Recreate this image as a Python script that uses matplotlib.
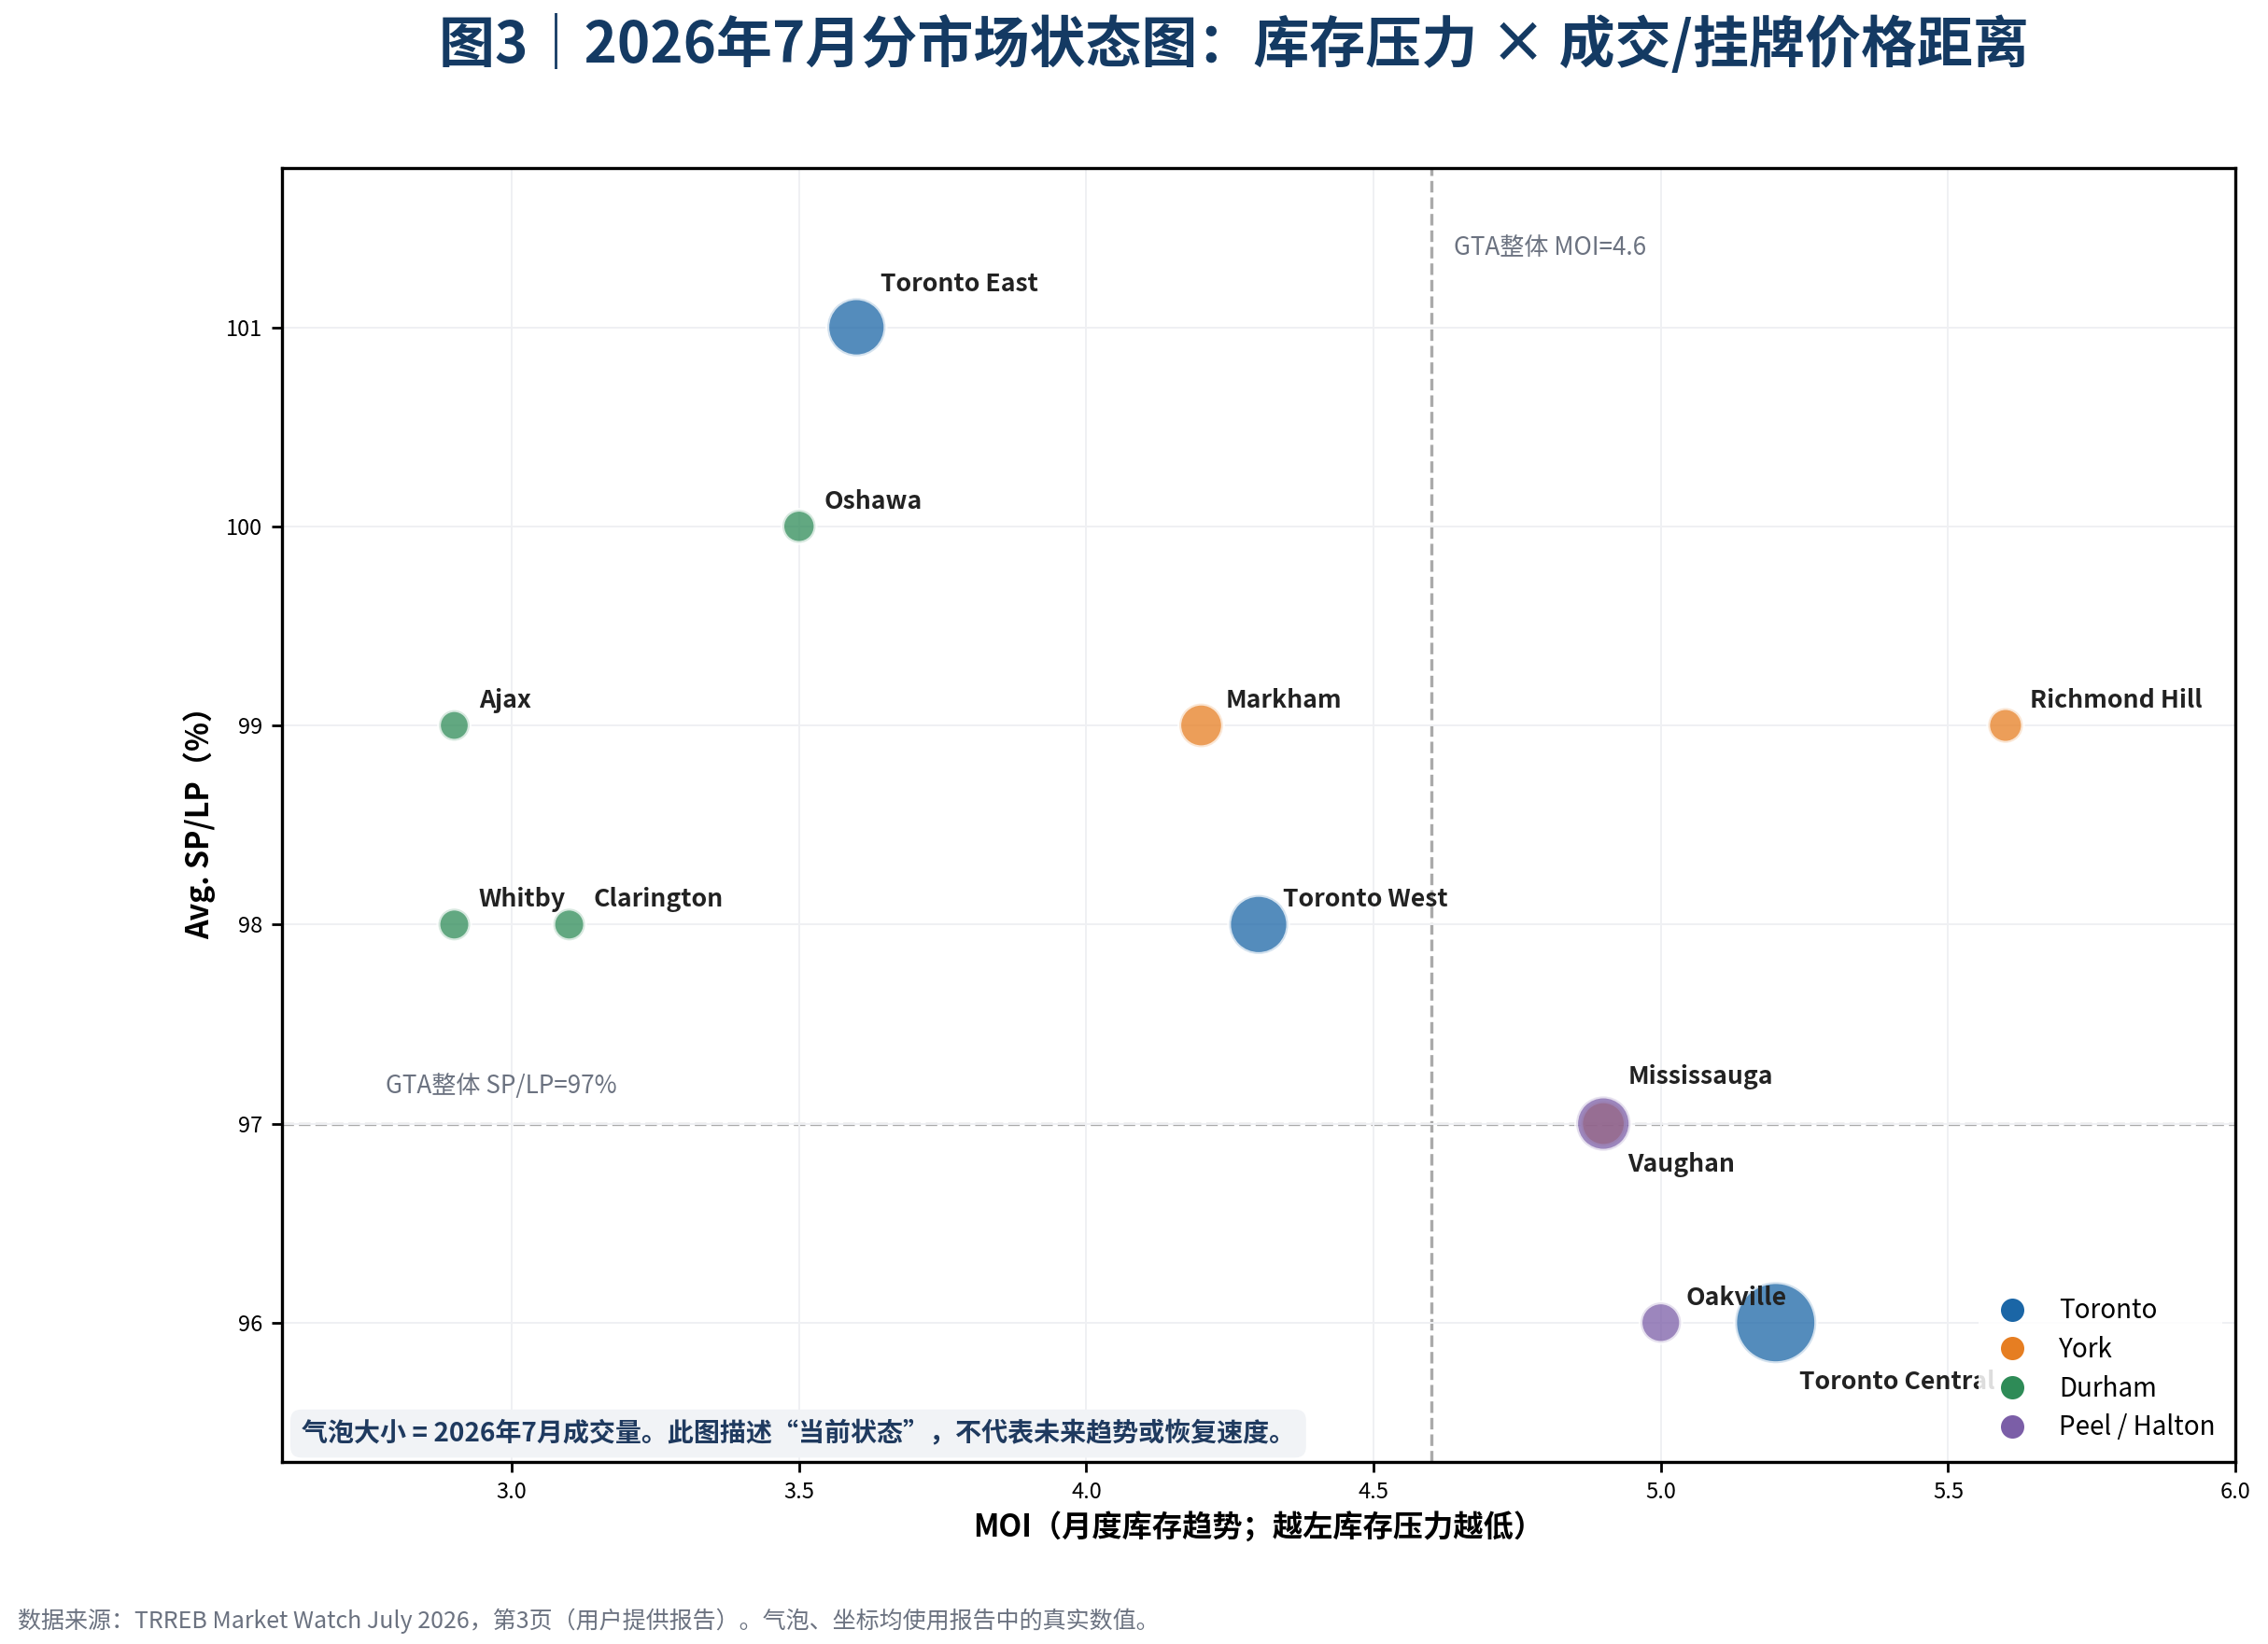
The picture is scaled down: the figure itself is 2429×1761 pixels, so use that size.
import matplotlib
matplotlib.use("Agg")
import matplotlib.pyplot as plt
from matplotlib.lines import Line2D

plt.rcParams["font.family"] = ["Noto Sans CJK SC", "DejaVu Sans"]
plt.rcParams["axes.unicode_minus"] = False

# 数据（从原图读取，成交量为估计值）
names = ["Toronto Central", "Toronto East", "Toronto West",
         "Markham", "Richmond Hill", "Vaughan",
         "Oshawa", "Ajax", "Whitby", "Clarington",
         "Mississauga", "Oakville"]
regions = ["Toronto", "Toronto", "Toronto",
           "York", "York", "York",
           "Durham", "Durham", "Durham", "Durham",
           "Peel / Halton", "Peel / Halton"]
moi = [5.2, 3.6, 4.3, 4.2, 5.6, 4.9, 3.5, 2.9, 2.9, 3.1, 4.9, 5.0]
splp = [96, 101, 98, 99, 99, 97, 100, 99, 98, 98, 97, 96]
sales = [1225, 630, 650, 355, 225, 370, 205, 175, 188, 188, 550, 305]

region_order = ["Toronto", "York", "Durham", "Peel / Halton"]
region_colors = ["#1b66a6", "#e67e22", "#2e8b57", "#7b5ea7"]

gta_moi = 4.6
gta_splp = 97

# 标签偏移（points）
label_offsets = {
    "Toronto East": (9.4, 16.5),
    "Toronto Central": (9, -23),
    "Mississauga": (9.5, 18),
    "Vaughan": (9.5, -16),
}

fig = plt.figure(figsize=(12.145, 8.805), dpi=200)
ax = fig.add_axes([0.1243, 0.1107, 0.8613, 0.7871])

for reg, col in zip(region_order, region_colors):
    idx = [i for i, r in enumerate(regions) if r == reg]
    ax.scatter([moi[i] for i in idx], [splp[i] for i in idx],
               s=[sales[i] * 0.8 for i in idx], color=col, alpha=0.75,
               edgecolor="white", linewidth=1.5, zorder=3)

for i, n in enumerate(names):
    dx, dy = label_offsets.get(n, (9.5, 9.5))
    ax.annotate(n, (moi[i], splp[i]), xytext=(dx, dy), textcoords="offset points",
                ha="left", va="center", fontsize=9.6, fontweight="bold",
                color="#222222", zorder=4)

ax.axvline(gta_moi, color="#aaaaaa", linestyle="--", linewidth=1.2, zorder=1)
ax.axhline(gta_splp, color="#aaaaaa", linestyle="--", linewidth=1.2, zorder=1)
ax.text(gta_moi + 0.04, 101.4, f"GTA整体 MOI={gta_moi}", fontsize=9.4,
        color="#6b7280", va="center")
ax.text(2.78, gta_splp + 0.19, f"GTA整体 SP/LP={gta_splp}%", fontsize=9.4,
        color="#6b7280", va="center")

ax.set_xlim(2.6, 6.0)
ax.set_ylim(95.3, 101.8)
ax.set_xticks([3.0, 3.5, 4.0, 4.5, 5.0, 5.5, 6.0])
ax.set_yticks([96, 97, 98, 99, 100, 101])
ax.tick_params(labelsize=8.5, width=1.0, length=4)
ax.grid(True, color="#eff0f3", linewidth=0.7, zorder=0)
for sp in ax.spines.values():
    sp.set_linewidth(1.2)
    sp.set_color("black")

ax.set_xlabel("MOI（月度库存趋势；越左库存压力越低）", fontsize=11.6, fontweight="bold")
ax.set_ylabel("Avg. SP/LP（%）", fontsize=11.6, fontweight="bold")

handles = [Line2D([0], [0], marker="o", linestyle="", markersize=8,
                  markerfacecolor=c, markeredgecolor=c) for c in region_colors]
leg = ax.legend(handles, region_order, loc="lower right", fontsize=10,
                frameon=True, framealpha=0.85, edgecolor="none",
                labelspacing=0.42, borderpad=0.28)
leg.set_zorder(5)

ax.text(0.01, 0.022,
        "气泡大小 = 2026年7月成交量。此图描述“当前状态”，不代表未来趋势或恢复速度。",
        transform=ax.transAxes, fontsize=10.1, fontweight="bold", color="#1f3a5f",
        va="center", ha="left", zorder=6,
        bbox=dict(boxstyle="round,pad=0.42", facecolor="#f1f3f6", edgecolor="none"))

fig.text(0.544, 0.973, "图3｜2026年7月分市场状态图：库存压力 × 成交/挂牌价格距离",
         fontsize=21.6, fontweight="bold", color="#143a63", ha="center", va="center")
fig.text(0.008, 0.014,
         "数据来源：TRREB Market Watch July 2026，第3页（用户提供报告）。气泡、坐标均使用报告中的真实数值。",
         fontsize=9, color="#6b7280", ha="left", va="center")

fig.savefig("out.png", dpi=200)
